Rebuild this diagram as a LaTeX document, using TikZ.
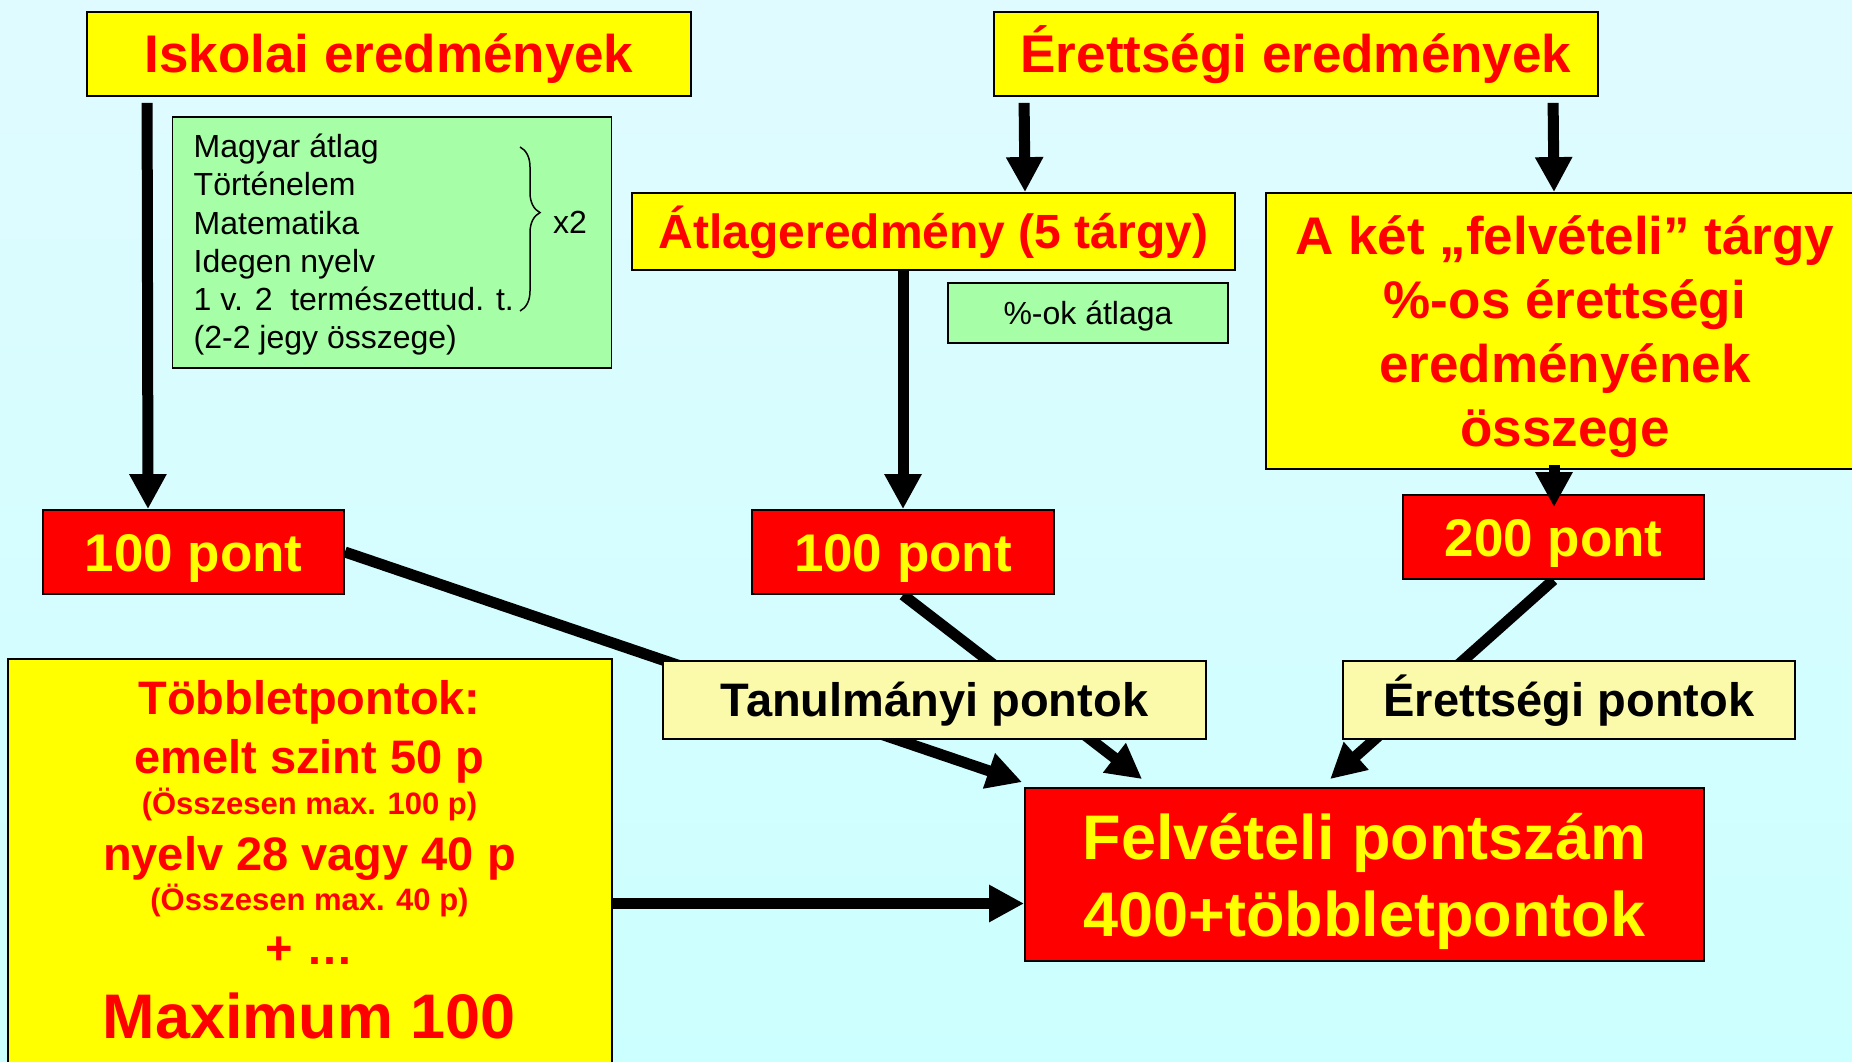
\documentclass[tikz,border=0pt]{standalone}
\usepackage{fontspec}
\setmainfont{Liberation Sans}
\usetikzlibrary{arrows.meta,decorations.pathreplacing,calc}
\definecolor{bgtop}{RGB}{224,251,255}
\definecolor{bgbot}{RGB}{204,255,255}
\definecolor{yel}{RGB}{255,255,0}
\definecolor{redb}{RGB}{255,0,0}
\definecolor{grn}{RGB}{166,255,166}
\definecolor{lyel}{RGB}{250,250,170}
\pgfdeclarelayer{bg}\pgfdeclarelayer{edges}\pgfsetlayers{bg,edges,main}
\begin{document}
\begin{tikzpicture}[x=1pt,y=-1pt,
 box/.style={draw=black,line width=1.8pt,inner sep=0pt,anchor=center},
 ybox/.style={box,fill=yel,text=redb},
 rbox/.style={box,fill=redb,text=yel},
 gbox/.style={box,fill=grn,text=black},
 lbox/.style={box,fill=lyel,text=black},
 big/.style={font=\fontsize{53}{64}\selectfont\bfseries},
 one/.style={text height=#1,text depth=0pt},
 small/.style={font=\fontsize{32}{38}\selectfont},
 tl/.style={anchor=base,inner sep=0pt,text=redb},
 arr/.style={line width=11pt,-{Triangle[width=35pt,length=35pt]}},
 ]
\useasboundingbox (0,0) rectangle (1852,1062);
\begin{pgfonlayer}{bg}
\shade[top color=bgtop,bottom color=bgbot] (0,0) rectangle (1852,1062);
\end{pgfonlayer}

\node[ybox,big,one=38pt,minimum width=604pt,minimum height=84pt] (isk) at (389,54) {Iskolai eredmények};
\node[ybox,big,one=38pt,minimum width=604pt,minimum height=84pt] (ere) at (1296,54) {Érettségi eredmények};

\node[gbox,minimum width=439pt,minimum height=251pt] (grn) at (392,242.5) {};
\foreach \t [count=\i] in {Magyar átlag,Történelem,Matematika,Idegen nyelv,1 v. 2\ \ természettud. t.,(2-2 jegy összege)}
  \node[anchor=base west,inner sep=0pt,small] (g\i) at (193.5,{157.5+38.25*(\i-1)}) {\t};
\draw[decorate,decoration={brace,amplitude=20pt,aspect=0.4},line width=1.5pt] (520,147) -- (520,311);
\node[anchor=base,inner sep=0pt,small] (x2) at (570,233.7) {x2};

\node[ybox,font=\fontsize{48}{58}\selectfont\bfseries,one=34.4pt,minimum width=603pt,minimum height=77pt] (atl) at (933.5,231.5) {Átlageredmény (5 tárgy)};
\node[gbox,small,one=23pt,minimum width=280pt,minimum height=60pt] (pct) at (1088,313) {\%-ok átlaga};
\node[ybox,big,align=center,text depth=0pt,minimum width=598pt,minimum height=276pt] (aket) at (1565,331) {A két „felvételi” tárgy\\\%-os érettségi\\eredményének\\összege};

\node[rbox,big,one=38pt,minimum width=301pt,minimum height=84pt] (p1) at (193.5,552) {100 pont};
\node[rbox,big,one=38pt,minimum width=302pt,minimum height=84pt] (p2) at (903,552) {100 pont};
\node[rbox,big,one=38pt,minimum width=301pt,minimum height=84pt] (p3) at (1553.5,537) {200 pont};

\node[ybox,minimum width=604pt,minimum height=420pt] (tob) at (310,869) {};
\node[tl,font=\fontsize{47}{56}\selectfont\bfseries] (t1) at (309.5,714) {Többletpontok:};
\node[tl,font=\fontsize{47}{56}\selectfont\bfseries] (t2) at (309.5,773) {emelt szint 50 p};
\node[tl,font=\fontsize{31}{37}\selectfont\bfseries] (t3) at (309.5,814) {(Összesen max. 100 p)};
\node[tl,font=\fontsize{47}{56}\selectfont\bfseries] (t4) at (309.5,870) {nyelv 28 vagy 40 p};
\node[tl,font=\fontsize{31}{37}\selectfont\bfseries] (t5) at (309.5,910) {(Összesen max. 40 p)};
\node[tl,font=\fontsize{47}{56}\selectfont\bfseries] (t6) at (309.5,964) {+ …};
\node[tl,font=\fontsize{63}{76}\selectfont\bfseries] (t7) at (309.5,1038) {Maximum 100};

\node[lbox,font=\fontsize{47}{56}\selectfont\bfseries,one=33.7pt,minimum width=543pt,minimum height=78pt] (tan) at (934.5,700) {Tanulmányi pontok};
\node[lbox,font=\fontsize{47}{56}\selectfont\bfseries,one=33.7pt,minimum width=452pt,minimum height=78pt] (erp) at (1569,700) {Érettségi pontok};

\node[rbox,font=\fontsize{63}{77}\selectfont\bfseries,align=center,text depth=0pt,minimum width=679pt,minimum height=173pt] (felv) at (1364.5,874.5) {Felvételi pontszám\\400+többletpontok};

\begin{pgfonlayer}{edges}
\draw[arr] (p1.east) -- ([xshift=-2pt,yshift=5pt]felv.north west);
\draw[arr] (p2.south) -- ([xshift=118pt,yshift=8pt]felv.north west);
\draw[arr] (p3.south) -- ([xshift=306pt,yshift=8pt]felv.north west);
\draw[arr] ([yshift=-34.5pt]tob.east) -- ([yshift=-34.5pt]tob.east -| felv.west);
\end{pgfonlayer}

\draw[arr] ([xshift=61pt,yshift=-6pt]isk.south west) -- ([xshift=-45.5pt]p1.north);
\draw[arr] ([xshift=31pt,yshift=-6pt]ere.south west) -- ([xshift=91.5pt]atl.north);
\draw[arr] ([xshift=560pt,yshift=-6pt]ere.south west) -- ([xshift=-11pt]aket.north);
\draw[arr] ([xshift=-30.5pt,yshift=2pt]atl.south) -- (p2.north);
\draw[arr] ([xshift=-11pt,yshift=5pt]aket.south) -- ([xshift=0.5pt,yshift=-13pt]p3.north);
\end{tikzpicture}
\end{document}
